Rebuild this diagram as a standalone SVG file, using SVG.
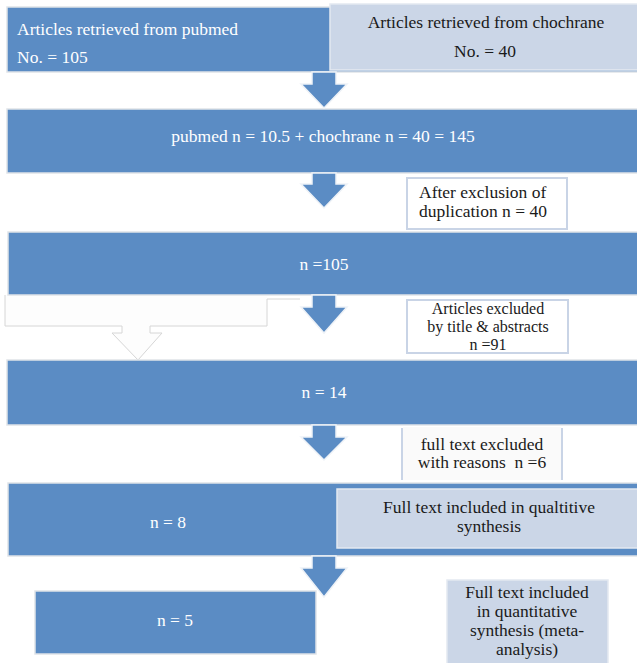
<svg xmlns="http://www.w3.org/2000/svg" width="637" height="663" viewBox="0 0 637 663">
<style>
.blue{fill:#5b8cc4;stroke:#dfe3e8;stroke-width:1.5}
.light{fill:#cbd6e7;stroke:#e4e9f1;stroke-width:1.5}
.wbox{fill:#ffffff;stroke:#c9d4e6;stroke-width:2}
.arrow{fill:#5b8cc4;stroke:#eef2f7;stroke-width:1.5}
.ghost{fill:#fdfdfd;stroke:#d6d6d6;stroke-width:1}
.w{fill:#ffffff}
.k{fill:#1a1a1a}
.m{text-anchor:middle}
.s{font-size:16px}
</style>
<rect width="637" height="663" fill="#ffffff"/>
<g font-family="'Liberation Serif', 'Times New Roman', 'DejaVu Serif', serif" font-size="17.5">
<g id="n-pubmed">
<rect class="blue" x="7" y="7" width="640" height="65"/>
<text class="w" x="17" y="35">Articles retrieved from pubmed</text>
<text class="w" x="17" y="63">No. = 105</text>
</g>
<g id="n-chochrane">
<rect class="light" x="330" y="4" width="320" height="66"/>
<text class="k m" x="486" y="28">Articles retrieved from chochrane</text>
<text class="k m" x="485" y="57">No. = 40</text>
</g>
<g id="n-total">
<rect class="blue" x="7" y="109" width="640" height="64"/>
<text class="w m" x="323" y="142">pubmed n = 10.5 + chochrane n = 40 = 145</text>
</g>
<g id="n-dup">
<rect class="wbox" x="407" y="178" width="160" height="51"/>
<text class="k" x="419" y="198">After exclusion of</text>
<text class="k" x="419" y="217">duplication n = 40</text>
</g>
<g id="n-ghost">
<path d="M5,295 L5,326 L122,326 L122,333 L112,333 L138,360 L162,333 L150,333 L150,326 L267,326 L267,295 Z" fill="#fdfdfd"/>
<path d="M5,295 L5,326 L122,326 L122,333 L112,333 L138,360 L162,333 L150,333 L150,326 L267,326 L267,299 L300,299" fill="none" stroke="#d6d6d6" stroke-width="1"/>
</g>
<g id="n-105">
<rect class="blue" x="8" y="232" width="640" height="63"/>
<text class="w m" x="324" y="270">n =105</text>
</g>
<g id="n-title">
<rect class="wbox" x="407" y="300" width="161" height="53"/>
<text class="k m s" x="488" y="314">Articles excluded</text>
<text class="k m s" x="488" y="332">by title &amp; abstracts</text>
<text class="k m s" x="488" y="350">n =91</text>
</g>
<g id="n-14">
<rect class="blue" x="7" y="360" width="640" height="65"/>
<text class="w m" x="324" y="398">n = 14</text>
</g>
<g id="n-fulltext">
<rect x="403" y="427" width="158" height="53" fill="#fafafa"/>
<line x1="402" y1="428" x2="402" y2="480" stroke="#c9d4e6" stroke-width="2"/>
<line x1="562" y1="428" x2="562" y2="480" stroke="#c9d4e6" stroke-width="2"/>
<text class="k m" x="482" y="450">full text excluded</text>
<text class="k m" x="482" y="468" xml:space="preserve">with reasons  n =6</text>
</g>
<g id="n-8">
<rect class="blue" x="8" y="483" width="640" height="73"/>
<text class="w m" x="168" y="528">n = 8</text>
</g>
<g id="n-qual">
<rect class="light" x="337" y="489" width="310" height="59"/>
<text class="k m" x="489" y="513">Full text included in qualtitive</text>
<text class="k m" x="489" y="532">synthesis</text>
</g>
<g id="n-5">
<rect class="blue" x="35" y="591" width="281" height="63"/>
<text class="w m" x="175" y="626">n = 5</text>
</g>
<g id="n-quant">
<rect class="light" x="447" y="580" width="161" height="90"/>
<text class="k m" x="527" y="598">Full text included</text>
<text class="k m" x="527" y="617">in quantitative</text>
<text class="k m" x="527" y="636">synthesis (meta-</text>
<text class="k m" x="527" y="655">analysis)</text>
</g>
</g>
<g id="connectors">
<path class="arrow" d="M312,72 L312,84 L301,84 L324,108 L347,84 L336,84 L336,72 Z"/>
<path class="arrow" d="M312,173 L312,184 L301,184 L324,208 L347,184 L336,184 L336,173 Z"/>
<path class="arrow" d="M312,295 L312,307 L301,307 L324,333 L347,307 L336,307 L336,295 Z"/>
<path class="arrow" d="M312,425 L312,437 L301,437 L324,460 L347,437 L336,437 L336,425 Z"/>
<path class="arrow" d="M312,556 L312,568 L301,568 L324,597 L347,568 L336,568 L336,556 Z"/>
</g>
</svg>
